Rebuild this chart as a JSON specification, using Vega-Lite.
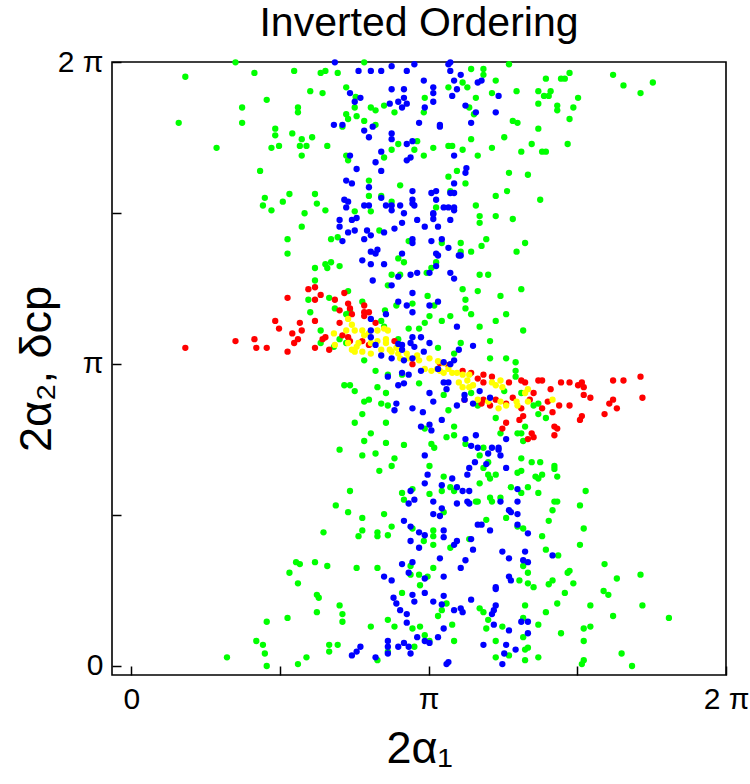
{
  "$schema": "https://vega.github.io/schema/vega-lite/v6.json",
  "width": 614,
  "height": 613,
  "autosize": {"type": "none"},
  "padding": {"left": 112, "top": 62, "right": 24, "bottom": 109},
  "background": "white",
  "title": {"text": "Inverted Ordering", "font": "Liberation Sans", "fontSize": 41, "fontWeight": "normal", "color": "black", "anchor": "middle", "offset": 2},
  "config": {
    "view": {"stroke": "black", "strokeWidth": 1.6},
    "axis": {
      "domain": false, "grid": false,
      "tickColor": "black", "tickWidth": 1.5, "tickSize": -9,
      "labelFont": "Liberation Sans", "labelFontSize": 30, "labelColor": "black",
      "labelFlush": false, "labelOverlap": false,
      "titleFont": "Liberation Sans", "titleFontSize": 45, "titleFontWeight": "normal", "titleColor": "black"
    }
  },
  "encoding": {
    "x": {
      "field": "a", "type": "quantitative",
      "scale": {"domain": [-0.205, 6.2832], "nice": false, "zero": false},
      "axis": {
        "title": "2α₁", "values": [0, 1.5708, 3.14159, 4.71239, 6.28318],
        "labelExpr": "datum.value < 0.1 ? '0' : abs(datum.value - 3.14159) < 0.01 ? 'π' : abs(datum.value - 6.28318) < 0.01 ? '2 π' : ''",
        "labelPadding": 18, "titlePadding": 12
      }
    },
    "y": {
      "field": "b", "type": "quantitative",
      "scale": {"domain": [-0.094, 6.2832], "nice": false, "zero": false},
      "axis": {
        "title": "2α₂,   δcp", "values": [0, 1.5708, 3.14159, 4.71239, 6.28318],
        "labelExpr": "datum.value < 0.1 ? '0' : abs(datum.value - 3.14159) < 0.01 ? 'π' : abs(datum.value - 6.28318) < 0.01 ? '2 π' : ''",
        "labelPadding": 18, "titlePadding": -2
      }
    }
  },
  "datasets": {
    "green": [
      {"a":1.10,"b":6.28},{"a":0.57,"b":6.13},{"a":1.30,"b":6.17},{"a":1.72,"b":6.19},{"a":2.00,"b":6.17},{"a":2.05,"b":6.19},{"a":2.18,"b":6.17},{"a":2.46,"b":6.28},{"a":1.89,"b":5.98},{"a":2.02,"b":5.96},{"a":2.27,"b":6.02},{"a":1.43,"b":5.89},{"a":1.17,"b":5.81},{"a":1.76,"b":5.81},{"a":1.76,"b":5.76},{"a":0.50,"b":5.65},{"a":1.17,"b":5.65},{"a":2.37,"b":5.92},{"a":2.36,"b":5.81},{"a":2.53,"b":5.81},{"a":2.58,"b":5.78},{"a":2.67,"b":5.83},{"a":2.78,"b":5.76},{"a":2.27,"b":5.74},{"a":2.29,"b":5.69},{"a":2.38,"b":5.72},{"a":2.46,"b":5.67},{"a":2.58,"b":5.63},{"a":2.23,"b":5.61},{"a":1.52,"b":5.59},{"a":1.52,"b":5.52},{"a":1.70,"b":5.54},{"a":1.80,"b":5.48},{"a":1.91,"b":5.50},{"a":0.90,"b":5.39},{"a":1.48,"b":5.39},{"a":1.56,"b":5.41},{"a":1.78,"b":5.41},{"a":1.85,"b":5.41},{"a":2.07,"b":5.41},{"a":1.80,"b":5.31},{"a":2.27,"b":5.31},{"a":2.29,"b":5.26},{"a":2.67,"b":5.29},{"a":2.75,"b":5.37},{"a":2.82,"b":5.43},{"a":2.99,"b":5.37},{"a":3.02,"b":5.46},{"a":1.36,"b":5.15},{"a":2.51,"b":5.05},{"a":2.84,"b":5.00},{"a":1.67,"b":4.91},{"a":1.94,"b":4.91},{"a":1.41,"b":4.87},{"a":1.60,"b":4.83},{"a":1.96,"b":4.81},{"a":1.39,"b":4.79},{"a":1.48,"b":4.74},{"a":2.05,"b":4.74},{"a":2.51,"b":4.89},{"a":2.64,"b":4.89},{"a":2.75,"b":4.83},{"a":1.83,"b":4.71},{"a":2.36,"b":4.73},{"a":2.53,"b":4.73},
      {"a":3.59,"b":6.21},{"a":3.72,"b":6.21},{"a":3.72,"b":6.15},{"a":3.99,"b":6.26},{"a":3.85,"b":6.09},{"a":3.50,"b":6.07},{"a":3.55,"b":6.02},{"a":3.35,"b":6.02},{"a":3.10,"b":5.91},{"a":3.09,"b":5.76},{"a":3.81,"b":5.96},{"a":3.64,"b":5.91},{"a":3.57,"b":5.81},{"a":3.62,"b":5.74},{"a":4.07,"b":5.98},{"a":4.30,"b":5.98},{"a":4.38,"b":6.11},{"a":4.54,"b":6.11},{"a":4.58,"b":6.11},{"a":4.63,"b":6.17},{"a":5.09,"b":6.15},{"a":5.20,"b":6.04},{"a":5.38,"b":5.96},{"a":5.51,"b":6.07},{"a":4.43,"b":5.98},{"a":4.36,"b":5.93},{"a":4.41,"b":5.93},{"a":4.72,"b":5.91},{"a":4.30,"b":5.85},{"a":4.50,"b":5.83},{"a":4.50,"b":5.78},{"a":4.67,"b":5.81},{"a":4.63,"b":5.69},{"a":4.03,"b":5.67},{"a":4.08,"b":5.65},{"a":4.30,"b":5.59},{"a":3.94,"b":5.50},{"a":3.59,"b":5.48},{"a":3.19,"b":5.39},{"a":3.35,"b":5.41},{"a":3.39,"b":5.41},{"a":3.50,"b":5.37},{"a":3.81,"b":5.39},{"a":4.12,"b":5.35},{"a":4.23,"b":5.43},{"a":4.61,"b":5.43},{"a":4.34,"b":5.35},{"a":4.38,"b":5.35},{"a":3.09,"b":5.31},{"a":3.66,"b":5.31},{"a":3.99,"b":5.13},{"a":4.19,"b":5.11},{"a":3.35,"b":5.09},{"a":3.44,"b":5.15},{"a":3.53,"b":5.02},{"a":3.37,"b":4.94},{"a":3.85,"b":4.89},{"a":3.97,"b":4.94},{"a":4.32,"b":4.85},{"a":3.22,"b":4.77},{"a":3.64,"b":4.79},
      {"a":1.80,"b":4.57},{"a":1.65,"b":4.44},{"a":1.65,"b":4.29},{"a":2.11,"b":4.44},{"a":2.18,"b":4.46},{"a":2.05,"b":4.18},{"a":2.11,"b":4.20},{"a":2.07,"b":4.14},{"a":2.20,"b":4.16},{"a":1.94,"b":4.14},{"a":1.94,"b":4.01},{"a":1.87,"b":3.81},{"a":2.29,"b":3.90},{"a":2.09,"b":3.83},{"a":1.89,"b":3.68},{"a":2.15,"b":3.72},{"a":2.31,"b":3.70},{"a":2.27,"b":3.66},{"a":2.44,"b":3.79},{"a":2.62,"b":4.53},{"a":2.93,"b":4.42},{"a":2.82,"b":4.24},{"a":2.88,"b":4.20},{"a":2.75,"b":4.07},{"a":2.84,"b":4.07},{"a":2.71,"b":3.96},{"a":2.97,"b":3.77},{"a":2.80,"b":3.75},{"a":2.68,"b":3.70},{"a":2.64,"b":3.59},{"a":2.67,"b":3.53},{"a":2.00,"b":3.49},{"a":2.00,"b":3.36},{"a":2.20,"b":3.40},{"a":2.27,"b":3.36},{"a":2.14,"b":3.32},{"a":2.46,"b":3.18},{"a":2.93,"b":3.51},{"a":3.04,"b":3.51},{"a":2.82,"b":3.40},
      {"a":3.68,"b":4.68},{"a":3.85,"b":4.68},{"a":4.03,"b":4.65},{"a":3.68,"b":4.61},{"a":3.75,"b":4.44},{"a":3.70,"b":4.37},{"a":3.48,"b":4.40},{"a":3.59,"b":4.31},{"a":3.48,"b":4.31},{"a":4.16,"b":4.40},{"a":4.07,"b":4.31},{"a":3.28,"b":4.40},{"a":3.22,"b":4.20},{"a":3.17,"b":4.14},{"a":3.12,"b":4.09},{"a":3.68,"b":4.07},{"a":3.77,"b":4.07},{"a":3.50,"b":3.92},{"a":3.66,"b":3.90},{"a":3.90,"b":3.85},{"a":4.12,"b":3.92},{"a":3.13,"b":3.85},{"a":3.53,"b":3.81},{"a":3.53,"b":3.72},{"a":3.59,"b":3.66},{"a":3.96,"b":3.66},{"a":3.85,"b":3.59},{"a":3.68,"b":3.53},{"a":4.14,"b":3.49},{"a":3.37,"b":3.64},{"a":3.28,"b":3.59},{"a":3.15,"b":3.64},{"a":3.10,"b":3.57},{"a":3.20,"b":3.75},{"a":3.79,"b":3.38},{"a":3.48,"b":3.36},{"a":3.24,"b":3.31},{"a":3.41,"b":3.25},{"a":3.79,"b":3.20},{"a":3.96,"b":3.20},{"a":4.06,"b":3.16},
      {"a":2.58,"b":3.07},{"a":2.71,"b":3.03},{"a":2.86,"b":3.03},{"a":2.25,"b":2.92},{"a":2.31,"b":2.92},{"a":2.36,"b":2.86},{"a":2.60,"b":2.90},{"a":2.69,"b":2.84},{"a":2.46,"b":2.75},{"a":2.51,"b":2.77},{"a":2.64,"b":2.73},{"a":2.71,"b":2.71},{"a":2.44,"b":2.62},{"a":2.36,"b":2.53},{"a":2.69,"b":2.53},{"a":2.53,"b":2.42},{"a":2.46,"b":2.34},{"a":2.69,"b":2.32},{"a":2.88,"b":2.30},{"a":2.20,"b":2.25},{"a":2.44,"b":2.19},{"a":2.58,"b":2.21},{"a":2.78,"b":2.16},{"a":2.75,"b":2.08},{"a":2.62,"b":2.03},{"a":3.04,"b":2.94},{"a":2.31,"b":1.82},{"a":2.97,"b":1.84},{"a":2.86,"b":1.80},{"a":2.88,"b":1.73},{"a":2.16,"b":1.67},{"a":2.29,"b":1.60},{"a":2.67,"b":1.58},{"a":2.44,"b":1.54},
      {"a":4.06,"b":3.07},{"a":4.06,"b":3.01},{"a":3.30,"b":2.82},{"a":3.35,"b":2.66},{"a":3.59,"b":2.84},{"a":3.66,"b":2.71},{"a":3.94,"b":2.86},{"a":3.85,"b":2.58},{"a":4.25,"b":2.71},{"a":4.30,"b":2.73},{"a":4.30,"b":2.62},{"a":4.38,"b":2.58},{"a":4.12,"b":2.84},{"a":3.10,"b":2.47},{"a":3.41,"b":2.49},{"a":3.41,"b":2.40},{"a":3.33,"b":2.38},{"a":3.17,"b":2.31},{"a":3.20,"b":2.27},{"a":3.53,"b":2.31},{"a":3.72,"b":2.27},{"a":3.68,"b":2.19},{"a":3.77,"b":2.12},{"a":3.72,"b":2.06},{"a":3.85,"b":1.99},{"a":3.77,"b":1.99},{"a":3.79,"b":1.95},{"a":3.68,"b":1.90},{"a":3.37,"b":1.86},{"a":3.41,"b":1.82},{"a":3.30,"b":1.97},{"a":3.15,"b":2.08},{"a":3.15,"b":1.79},{"a":3.28,"b":1.82},{"a":4.12,"b":2.16},{"a":4.08,"b":2.01},{"a":4.12,"b":2.03},{"a":4.23,"b":2.12},{"a":4.32,"b":2.12},{"a":4.27,"b":1.97},{"a":4.30,"b":1.95},{"a":4.34,"b":1.99},{"a":4.47,"b":2.08},{"a":4.47,"b":2.05},{"a":4.50,"b":1.97},{"a":4.19,"b":1.86},{"a":4.12,"b":1.80},{"a":4.01,"b":1.86},{"a":4.30,"b":1.80},{"a":3.90,"b":1.75},{"a":3.81,"b":1.71},{"a":3.79,"b":1.75},{"a":3.66,"b":1.71},{"a":3.64,"b":1.71},{"a":4.80,"b":1.82},{"a":4.74,"b":1.67},{"a":4.47,"b":1.71},{"a":4.50,"b":1.71},{"a":4.45,"b":1.62},{"a":3.90,"b":2.42},{"a":4.08,"b":2.42},{"a":4.12,"b":2.42},{"a":4.16,"b":2.49},{"a":4.14,"b":2.34},{"a":3.96,"b":1.54},{"a":3.75,"b":1.52},{"a":3.30,"b":1.60},{"a":4.41,"b":1.51},
      {"a":2.44,"b":1.41},{"a":2.40,"b":1.35},{"a":2.60,"b":1.39},{"a":2.60,"b":1.35},{"a":2.71,"b":1.36},{"a":2.75,"b":1.45},{"a":2.97,"b":1.43},{"a":2.03,"b":1.39},{"a":1.74,"b":1.08},{"a":1.78,"b":1.06},{"a":1.94,"b":1.08},{"a":2.07,"b":1.04},{"a":1.67,"b":0.97},{"a":1.76,"b":0.86},{"a":2.38,"b":1.02},{"a":2.60,"b":1.02},{"a":2.95,"b":1.04},{"a":2.95,"b":0.95},{"a":3.04,"b":0.95},{"a":3.05,"b":0.84},{"a":2.86,"b":0.76},{"a":1.96,"b":0.74},{"a":1.98,"b":0.71},{"a":1.96,"b":0.56},{"a":2.20,"b":0.63},{"a":2.23,"b":0.54},{"a":2.23,"b":0.46},{"a":2.53,"b":0.41},{"a":2.71,"b":0.48},{"a":2.78,"b":0.41},{"a":2.97,"b":0.39},{"a":3.05,"b":0.41},{"a":1.43,"b":0.46},{"a":1.65,"b":0.50},{"a":1.32,"b":0.26},{"a":1.39,"b":0.22},{"a":1.41,"b":0.13},{"a":1.01,"b":0.09},{"a":1.43,"b":0.00},{"a":1.76,"b":0.02},{"a":1.85,"b":0.09},{"a":2.09,"b":0.22},{"a":2.09,"b":0.15},{"a":2.18,"b":0.22},{"a":2.60,"b":0.06},{"a":2.99,"b":0.20},{"a":2.71,"b":0.15},
      {"a":4.78,"b":1.43},{"a":4.74,"b":1.26},{"a":5.00,"b":1.06},{"a":5.13,"b":0.91},{"a":5.38,"b":0.95},{"a":4.99,"b":0.78},{"a":5.04,"b":0.74},{"a":4.85,"b":0.63},{"a":5.09,"b":0.52},{"a":5.40,"b":0.63},{"a":5.68,"b":0.50},{"a":3.19,"b":1.41},{"a":3.19,"b":1.35},{"a":3.19,"b":1.26},{"a":3.09,"b":1.30},{"a":3.57,"b":1.32},{"a":3.37,"b":1.23},{"a":3.19,"b":1.02},{"a":3.13,"b":0.93},{"a":3.33,"b":0.65},{"a":3.28,"b":0.58},{"a":3.24,"b":0.52},{"a":3.10,"b":0.32},{"a":3.15,"b":0.26},{"a":3.39,"b":0.43},{"a":3.41,"b":0.26},{"a":4.14,"b":1.43},{"a":4.08,"b":1.45},{"a":4.34,"b":1.35},{"a":4.38,"b":1.21},{"a":4.51,"b":1.15},{"a":4.14,"b":1.04},{"a":4.19,"b":0.97},{"a":4.10,"b":0.89},{"a":4.19,"b":0.86},{"a":4.25,"b":0.82},{"a":4.41,"b":0.85},{"a":4.45,"b":0.89},{"a":4.61,"b":0.97},{"a":4.63,"b":0.99},{"a":4.67,"b":0.86},{"a":4.58,"b":0.76},{"a":4.50,"b":0.65},{"a":4.38,"b":0.56},{"a":4.16,"b":0.63},{"a":4.14,"b":0.50},{"a":4.30,"b":0.43},{"a":4.54,"b":0.34},{"a":4.14,"b":0.30},{"a":4.78,"b":0.39},{"a":4.85,"b":0.41},{"a":4.78,"b":0.26},{"a":3.68,"b":0.60},{"a":3.72,"b":0.56},{"a":3.77,"b":0.48},{"a":3.75,"b":0.39},{"a":3.92,"b":0.41},{"a":3.85,"b":0.26},{"a":3.85,"b":0.09},{"a":3.99,"b":0.11},{"a":4.16,"b":0.17},{"a":4.19,"b":0.19},{"a":4.16,"b":0.06},{"a":4.30,"b":0.09},{"a":4.78,"b":0.06},{"a":4.76,"b":0.02},{"a":5.18,"b":0.13},{"a":5.29,"b":0.00}
    ],
    "red": [
      {"a":1.65,"b":3.83},{"a":1.87,"b":3.92},{"a":1.94,"b":3.94},{"a":2.00,"b":3.86},{"a":2.15,"b":3.81},{"a":2.25,"b":3.88},{"a":1.94,"b":3.81},{"a":2.20,"b":3.70},{"a":2.29,"b":3.77},{"a":2.31,"b":3.72},{"a":2.33,"b":3.66},{"a":2.46,"b":3.75},{"a":2.46,"b":3.68},{"a":2.51,"b":3.68},{"a":1.52,"b":3.59},{"a":1.56,"b":3.51},{"a":1.70,"b":3.46},{"a":1.78,"b":3.57},{"a":1.80,"b":3.49},{"a":1.94,"b":3.59},{"a":2.20,"b":3.57},{"a":1.76,"b":3.40},{"a":1.72,"b":3.36},{"a":1.10,"b":3.38},{"a":1.30,"b":3.40},{"a":1.32,"b":3.31},{"a":1.43,"b":3.31},{"a":0.57,"b":3.31},{"a":1.65,"b":3.27},{"a":1.94,"b":3.31},{"a":2.02,"b":3.40},{"a":2.05,"b":3.42},{"a":2.09,"b":3.29},{"a":2.23,"b":3.44},{"a":2.29,"b":3.42},{"a":2.31,"b":3.38},{"a":2.46,"b":3.64},{"a":2.58,"b":3.57},{"a":2.44,"b":3.38},{"a":2.51,"b":3.34},{"a":2.78,"b":3.38},{"a":2.97,"b":3.14},{"a":3.26,"b":3.15},{"a":3.35,"b":3.13},
      {"a":3.50,"b":3.07},{"a":3.59,"b":3.05},{"a":3.72,"b":3.03},{"a":3.81,"b":3.01},{"a":3.66,"b":2.99},{"a":3.72,"b":2.95},{"a":3.99,"b":2.95},{"a":4.12,"b":2.97},{"a":4.16,"b":2.95},{"a":4.30,"b":2.97},{"a":4.34,"b":2.97},{"a":4.54,"b":2.95},{"a":4.63,"b":2.95},{"a":4.72,"b":2.92},{"a":4.76,"b":2.95},{"a":4.78,"b":2.90},{"a":4.78,"b":2.82},{"a":4.85,"b":2.79},{"a":5.09,"b":2.97},{"a":5.20,"b":2.97},{"a":5.38,"b":3.01},{"a":5.40,"b":2.79},{"a":5.09,"b":2.77},{"a":5.05,"b":2.73},{"a":5.13,"b":2.68},{"a":5.00,"b":2.62},{"a":4.76,"b":2.60},{"a":4.74,"b":2.56},{"a":4.47,"b":2.49},{"a":4.50,"b":2.47},{"a":4.47,"b":2.40},{"a":4.63,"b":2.71},{"a":4.52,"b":2.71},{"a":4.45,"b":2.64},{"a":4.34,"b":2.68},{"a":4.40,"b":2.75},{"a":4.43,"b":2.88},{"a":4.25,"b":2.84},{"a":4.21,"b":2.77},{"a":4.12,"b":2.68},{"a":4.14,"b":2.60},{"a":4.10,"b":2.56},{"a":3.96,"b":2.53},{"a":3.92,"b":2.47},{"a":4.03,"b":2.79},{"a":3.96,"b":2.73},{"a":3.79,"b":2.71},{"a":3.70,"b":2.73},{"a":3.72,"b":2.77},{"a":3.52,"b":2.77},{"a":3.85,"b":2.77},{"a":4.23,"b":2.42},{"a":4.25,"b":2.38},{"a":4.19,"b":2.36}
    ],
    "yellow": [
      {"a":2.29,"b":3.61},{"a":2.33,"b":3.55},{"a":2.14,"b":3.46},{"a":2.27,"b":3.49},{"a":2.36,"b":3.49},{"a":2.44,"b":3.49},{"a":2.51,"b":3.46},{"a":2.60,"b":3.49},{"a":2.67,"b":3.51},{"a":2.71,"b":3.49},{"a":2.40,"b":3.36},{"a":2.33,"b":3.29},{"a":2.38,"b":3.32},{"a":2.29,"b":3.36},{"a":2.53,"b":3.36},{"a":2.60,"b":3.38},{"a":2.69,"b":3.40},{"a":2.53,"b":3.25},{"a":2.64,"b":3.29},{"a":2.73,"b":3.29},{"a":2.80,"b":3.31},{"a":2.75,"b":3.27},{"a":2.82,"b":3.25},{"a":2.84,"b":3.20},{"a":2.91,"b":3.25},{"a":2.93,"b":3.20},{"a":3.02,"b":3.23},{"a":3.04,"b":3.18},{"a":2.36,"b":3.27},{"a":2.44,"b":3.27},{"a":2.15,"b":3.34},{"a":2.46,"b":3.44},{"a":2.69,"b":3.36},{"a":3.15,"b":3.20},{"a":3.24,"b":3.17},{"a":3.30,"b":3.15},
      {"a":3.10,"b":3.09},{"a":3.17,"b":3.07},{"a":3.26,"b":3.07},{"a":3.35,"b":3.09},{"a":3.39,"b":3.05},{"a":3.44,"b":3.05},{"a":3.50,"b":3.03},{"a":3.57,"b":3.03},{"a":3.55,"b":2.97},{"a":3.46,"b":2.95},{"a":3.50,"b":2.90},{"a":3.57,"b":2.90},{"a":3.61,"b":2.92},{"a":3.81,"b":2.95},{"a":3.85,"b":2.92},{"a":3.90,"b":2.97},{"a":3.92,"b":2.90},{"a":3.66,"b":2.77},{"a":3.77,"b":2.75},{"a":3.90,"b":2.75},{"a":3.96,"b":2.71},{"a":4.07,"b":2.75},{"a":4.08,"b":2.71},{"a":4.16,"b":2.84},{"a":4.19,"b":2.88},{"a":4.19,"b":2.75},{"a":4.45,"b":2.77},{"a":3.88,"b":2.68},{"a":3.23,"b":3.09},{"a":3.30,"b":3.05}
    ],
    "blue": [
      {"a":2.15,"b":6.28},{"a":2.40,"b":6.19},{"a":2.53,"b":6.19},{"a":2.64,"b":6.19},{"a":2.75,"b":6.24},{"a":2.91,"b":6.19},{"a":2.99,"b":6.26},{"a":2.75,"b":6.00},{"a":2.88,"b":6.00},{"a":2.31,"b":5.96},{"a":2.42,"b":5.91},{"a":2.36,"b":5.87},{"a":2.82,"b":5.87},{"a":2.88,"b":5.91},{"a":2.91,"b":5.85},{"a":2.73,"b":5.85},{"a":2.86,"b":5.81},{"a":3.04,"b":5.65},{"a":2.14,"b":5.63},{"a":2.23,"b":5.63},{"a":2.46,"b":5.57},{"a":2.55,"b":5.61},{"a":2.51,"b":5.50},{"a":2.75,"b":5.54},{"a":2.75,"b":5.48},{"a":2.91,"b":5.43},{"a":2.97,"b":5.46},{"a":2.64,"b":5.35},{"a":2.31,"b":5.31},{"a":2.58,"b":5.24},{"a":2.91,"b":5.26},{"a":2.95,"b":5.29},{"a":2.38,"b":5.17},{"a":2.64,"b":5.15},{"a":2.27,"b":5.05},{"a":2.33,"b":5.02},{"a":2.51,"b":4.98},{"a":2.97,"b":4.94},{"a":2.25,"b":4.85},{"a":2.29,"b":4.83},{"a":2.27,"b":4.77},{"a":2.46,"b":4.79},{"a":2.51,"b":4.79},{"a":2.64,"b":4.87},{"a":2.69,"b":4.79},{"a":2.84,"b":4.79},{"a":2.97,"b":4.85},{"a":2.97,"b":4.81},{"a":2.99,"b":4.79},{"a":2.75,"b":4.79},{"a":2.75,"b":4.74},{"a":2.88,"b":4.71},
      {"a":3.35,"b":6.26},{"a":3.37,"b":6.28},{"a":3.37,"b":6.19},{"a":3.48,"b":6.15},{"a":3.09,"b":6.09},{"a":3.41,"b":6.09},{"a":3.19,"b":6.02},{"a":3.19,"b":5.96},{"a":3.44,"b":6.00},{"a":3.39,"b":5.93},{"a":3.66,"b":6.07},{"a":3.70,"b":6.09},{"a":3.88,"b":5.93},{"a":3.19,"b":5.87},{"a":3.10,"b":5.81},{"a":3.53,"b":5.83},{"a":3.64,"b":5.76},{"a":3.85,"b":5.76},{"a":3.59,"b":5.65},{"a":3.26,"b":5.63},{"a":3.26,"b":5.61},{"a":3.41,"b":5.31},{"a":3.54,"b":5.18},{"a":3.53,"b":5.13},{"a":3.41,"b":5.02},{"a":3.17,"b":4.92},{"a":3.22,"b":4.94},{"a":3.22,"b":4.85},{"a":3.37,"b":4.92},{"a":3.41,"b":4.92},{"a":3.30,"b":4.77},{"a":3.35,"b":4.77},{"a":3.41,"b":4.77},{"a":3.41,"b":4.74},{"a":3.19,"b":4.71},
      {"a":2.20,"b":4.64},{"a":2.20,"b":4.57},{"a":2.33,"b":4.64},{"a":2.38,"b":4.66},{"a":2.29,"b":4.51},{"a":2.36,"b":4.53},{"a":2.49,"b":4.53},{"a":2.53,"b":4.48},{"a":2.67,"b":4.51},{"a":2.78,"b":4.55},{"a":2.86,"b":4.61},{"a":3.02,"b":4.64},{"a":2.97,"b":4.44},{"a":2.97,"b":4.40},{"a":2.23,"b":4.42},{"a":2.46,"b":4.44},{"a":2.53,"b":4.31},{"a":2.58,"b":4.29},{"a":2.60,"b":4.33},{"a":2.44,"b":4.22},{"a":2.53,"b":4.18},{"a":2.67,"b":4.18},{"a":2.86,"b":4.29},{"a":2.82,"b":4.05},{"a":2.95,"b":4.07},{"a":3.02,"b":4.09},{"a":2.55,"b":4.01},{"a":2.75,"b":3.96},{"a":2.97,"b":3.88},{"a":2.82,"b":3.79},{"a":2.91,"b":3.75},{"a":2.97,"b":3.68},{"a":2.69,"b":3.66},{"a":2.53,"b":3.61},{"a":2.53,"b":3.49},{"a":2.53,"b":3.42},{"a":2.58,"b":3.34},{"a":2.64,"b":3.23},{"a":2.75,"b":3.20},{"a":2.86,"b":3.34},{"a":2.86,"b":3.29},{"a":2.95,"b":3.36},{"a":2.97,"b":3.42},{"a":2.99,"b":3.32},{"a":2.97,"b":3.20},{"a":2.88,"b":3.18},{"a":2.82,"b":3.35},
      {"a":3.19,"b":4.70},{"a":3.19,"b":4.65},{"a":3.37,"b":4.64},{"a":3.10,"b":4.57},{"a":3.24,"b":4.57},{"a":3.17,"b":4.42},{"a":3.28,"b":4.44},{"a":3.35,"b":4.35},{"a":3.22,"b":4.29},{"a":3.24,"b":4.27},{"a":3.46,"b":4.27},{"a":3.48,"b":4.27},{"a":3.22,"b":4.16},{"a":3.15,"b":4.09},{"a":3.37,"b":4.09},{"a":3.41,"b":4.03},{"a":3.24,"b":3.79},{"a":3.15,"b":3.75},{"a":3.44,"b":3.53},{"a":3.06,"b":3.42},{"a":3.15,"b":3.36},{"a":3.46,"b":3.29},{"a":3.61,"b":3.33},{"a":3.41,"b":3.18},{"a":3.09,"b":3.27},{"a":3.30,"b":3.16},{"a":3.37,"b":3.14},
      {"a":2.86,"b":3.05},{"a":2.93,"b":3.03},{"a":2.71,"b":3.01},{"a":2.82,"b":2.92},{"a":2.88,"b":2.94},{"a":3.06,"b":3.07},{"a":2.80,"b":2.73},{"a":2.78,"b":2.66},{"a":2.97,"b":2.68},{"a":3.06,"b":2.49},{"a":2.95,"b":1.82},{"a":2.99,"b":1.73},{"a":2.93,"b":1.69},{"a":2.88,"b":1.51},
      {"a":3.24,"b":3.09},{"a":3.30,"b":2.95},{"a":3.35,"b":2.95},{"a":3.33,"b":2.88},{"a":3.15,"b":2.84},{"a":3.19,"b":2.75},{"a":3.44,"b":2.71},{"a":3.52,"b":2.82},{"a":3.52,"b":2.77},{"a":3.61,"b":2.73},{"a":3.68,"b":2.86},{"a":3.79,"b":2.79},{"a":3.08,"b":2.64},{"a":3.28,"b":2.56},{"a":3.15,"b":2.51},{"a":3.17,"b":2.45},{"a":3.96,"b":2.36},{"a":3.53,"b":2.36},{"a":3.64,"b":2.40},{"a":3.59,"b":2.29},{"a":3.66,"b":2.27},{"a":3.77,"b":2.21},{"a":3.81,"b":2.27},{"a":3.88,"b":2.27},{"a":3.88,"b":2.25},{"a":3.90,"b":2.19},{"a":3.10,"b":2.19},{"a":3.63,"b":2.12},{"a":3.75,"b":2.10},{"a":3.57,"b":2.06},{"a":3.55,"b":1.99},{"a":3.13,"b":1.99},{"a":3.39,"b":1.95},{"a":3.10,"b":1.90},{"a":3.28,"b":1.88},{"a":3.44,"b":1.86},{"a":3.50,"b":1.82},{"a":3.57,"b":1.82},{"a":3.96,"b":2.06},{"a":4.08,"b":1.84},{"a":3.19,"b":1.71},{"a":3.44,"b":1.69},{"a":3.55,"b":1.71},{"a":3.57,"b":1.69},{"a":3.90,"b":1.71},{"a":4.08,"b":1.71},{"a":3.28,"b":1.64},{"a":3.19,"b":1.58},{"a":3.26,"b":1.56},{"a":3.99,"b":1.62},{"a":4.01,"b":1.60},{"a":4.08,"b":1.58},
      {"a":2.95,"b":1.45},{"a":3.04,"b":1.39},{"a":2.95,"b":1.30},{"a":3.04,"b":1.23},{"a":2.86,"b":1.06},{"a":2.97,"b":1.08},{"a":2.93,"b":0.97},{"a":2.67,"b":0.93},{"a":2.75,"b":0.89},{"a":2.77,"b":0.71},{"a":2.80,"b":0.65},{"a":2.97,"b":0.74},{"a":2.99,"b":0.67},{"a":2.84,"b":0.58},{"a":2.91,"b":0.54},{"a":2.91,"b":0.45},{"a":3.02,"b":0.30},{"a":2.71,"b":0.26},{"a":2.71,"b":0.20},{"a":2.71,"b":0.13},{"a":2.82,"b":0.20},{"a":2.88,"b":0.24},{"a":2.93,"b":0.20},{"a":2.95,"b":0.13},{"a":2.33,"b":0.11},{"a":2.38,"b":0.15},{"a":2.42,"b":0.20},{"a":2.58,"b":0.09},
      {"a":3.66,"b":1.47},{"a":3.70,"b":1.47},{"a":4.08,"b":1.47},{"a":3.79,"b":1.41},{"a":4.19,"b":1.38},{"a":3.10,"b":1.36},{"a":3.30,"b":1.41},{"a":3.30,"b":1.34},{"a":3.41,"b":1.26},{"a":3.44,"b":1.30},{"a":3.59,"b":1.32},{"a":3.61,"b":1.21},{"a":3.92,"b":1.19},{"a":3.99,"b":1.12},{"a":4.16,"b":1.19},{"a":4.14,"b":1.10},{"a":4.19,"b":1.08},{"a":4.45,"b":1.15},{"a":3.26,"b":1.12},{"a":3.53,"b":1.10},{"a":3.48,"b":1.02},{"a":3.30,"b":0.93},{"a":3.10,"b":0.91},{"a":3.10,"b":0.76},{"a":3.19,"b":0.67},{"a":3.28,"b":0.64},{"a":3.30,"b":0.73},{"a":3.41,"b":0.58},{"a":3.48,"b":0.60},{"a":3.50,"b":0.56},{"a":3.59,"b":0.69},{"a":3.85,"b":0.82},{"a":3.85,"b":0.80},{"a":3.99,"b":0.93},{"a":4.01,"b":0.89},{"a":3.85,"b":0.63},{"a":3.83,"b":0.58},{"a":3.81,"b":0.54},{"a":3.83,"b":0.43},{"a":3.99,"b":0.37},{"a":4.12,"b":0.46},{"a":4.19,"b":0.46},{"a":4.19,"b":0.34},{"a":3.30,"b":0.39},{"a":3.24,"b":0.30},{"a":3.10,"b":0.26},{"a":3.15,"b":0.24},{"a":3.72,"b":0.22},{"a":3.96,"b":0.22},{"a":3.94,"b":0.13},{"a":4.06,"b":0.17},{"a":3.92,"b":0.02},{"a":3.35,"b":0.04},{"a":3.33,"b":0.02}
    ]
  },
  "layer": [
    {"data": {"name": "green"}, "mark": {"type": "circle", "size": 40, "opacity": 1, "color": "#00ff00"}},
    {"data": {"name": "red"}, "mark": {"type": "circle", "size": 40, "opacity": 1, "color": "#ff0000"}},
    {"data": {"name": "yellow"}, "mark": {"type": "circle", "size": 40, "opacity": 1, "color": "#ffff00"}},
    {"data": {"name": "blue"}, "mark": {"type": "circle", "size": 40, "opacity": 1, "color": "#0000ff"}}
  ]
}
